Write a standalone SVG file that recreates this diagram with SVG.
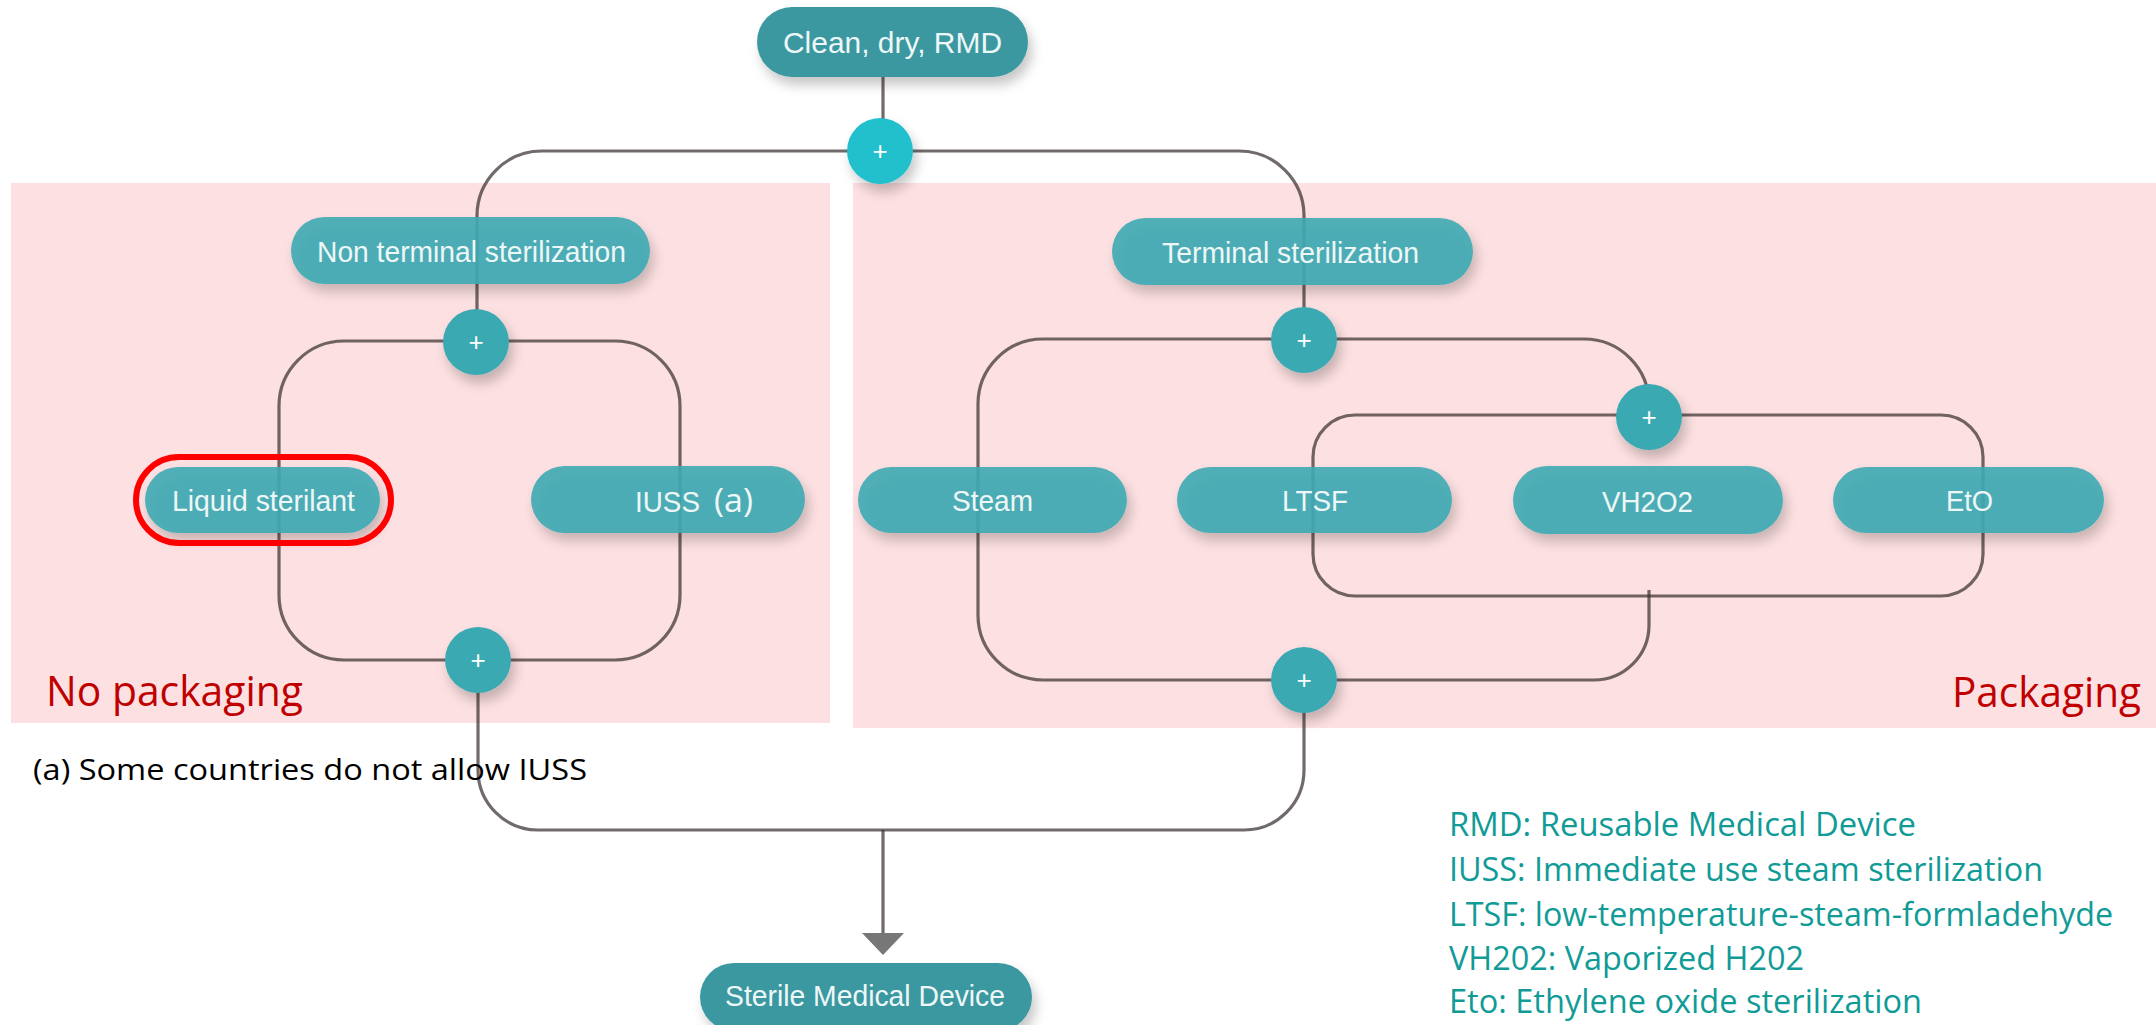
<svg xmlns="http://www.w3.org/2000/svg" width="2156" height="1025" viewBox="0 0 2156 1025">
  <defs>
    <filter id="sh" x="-20%" y="-30%" width="140%" height="180%">
      <feDropShadow dx="4" dy="8" stdDeviation="6" flood-color="#000" flood-opacity="0.22"/>
    </filter>
    <style>
      .zone { fill: #fde0e1; }
      .conn { fill: none; stroke: #3a3030; stroke-opacity: 0.72; stroke-width: 3.2; }
      .nodeIn { fill: #3eaab3; fill-opacity: 0.9; filter: url(#sh); }
      .nodeOut { fill: #3a98a1; filter: url(#sh); }
      .plus { fill: #3ba9b2; filter: url(#sh); }
      .plusTop { fill: #20c0cc; filter: url(#sh); }
      .lbl { font-family: "Liberation Sans", Arial, sans-serif; font-size: 30px; fill: #eef7f7; }
      .pl { font-family: "Liberation Sans", Arial, sans-serif; font-size: 26px; fill: #ffffff; text-anchor: middle; }
      .note { font-family: "Open Sans", "Noto Sans", sans-serif; }
      .red { fill: #c00000; font-size: 42px; }
      .leg { fill: #109b97; font-size: 32px; }
    </style>
  </defs>
  <rect width="2156" height="1025" fill="#ffffff"/>
  <!-- zones -->
  <rect class="zone" x="11" y="183" width="819" height="540"/>
  <rect class="zone" x="853" y="183" width="1303" height="545"/>

  <!-- connectors -->
  <g id="connectors">
    <path class="conn" d="M 883 77 V 120"/>
    <path class="conn" d="M 880 151 H 542 A 65 65 0 0 0 477 216 V 342"/>
    <path class="conn" d="M 880 151 H 1239 A 65 65 0 0 1 1304 216 V 340"/>
    <path class="conn" d="M 476 341 H 344 A 65 65 0 0 0 279 406 V 595 A 65 65 0 0 0 344 660 H 478"/>
    <path class="conn" d="M 476 341 H 615 A 65 65 0 0 1 680 406 V 595 A 65 65 0 0 1 615 660 H 478"/>
    <path class="conn" d="M 478 660 V 770 A 60 60 0 0 0 538 830 H 1244 A 60 60 0 0 0 1304 770 V 680"/>
    <path class="conn" d="M 883 830 V 935"/>
    <polygon points="862,933 904,933 883,955" fill="#777777"/>
    <path class="conn" d="M 1304 339 H 1043 A 65 65 0 0 0 978 404 V 615 A 65 65 0 0 0 1043 680 H 1304"/>
    <path class="conn" d="M 1304 339 H 1584 A 65 65 0 0 1 1649 404 V 417"/>
    <rect class="conn" x="1313" y="415" width="670" height="181" rx="42"/>
    <path class="conn" d="M 1649 590 V 625 A 55 55 0 0 1 1594 680 H 1304"/>
  </g>

  <!-- nodes -->
  <g id="n-clean">
    <rect class="nodeOut" x="757" y="7" width="271" height="70" rx="35"/>
    <text class="lbl" x="783" y="53" textLength="219" lengthAdjust="spacingAndGlyphs">Clean, dry, RMD</text>
  </g>
  <g id="p-top">
    <circle class="plusTop" cx="880" cy="151" r="33"/>
    <text class="pl" x="880" y="160">+</text>
  </g>
  <g id="n-nonterminal">
    <rect class="nodeIn" x="291" y="217" width="359" height="67" rx="33.5"/>
    <text class="lbl" x="317" y="262" textLength="309" lengthAdjust="spacingAndGlyphs">Non terminal sterilization</text>
  </g>
  <g id="n-terminal">
    <rect class="nodeIn" x="1112" y="218" width="361" height="67" rx="33.5"/>
    <text class="lbl" x="1162" y="263" textLength="257" lengthAdjust="spacingAndGlyphs">Terminal sterilization</text>
  </g>
  <g id="p-left-top">
    <circle class="plus" cx="476" cy="342" r="33"/>
    <text class="pl" x="476" y="351">+</text>
  </g>
  <g id="n-liquid">
    <rect class="nodeIn" x="145" y="467" width="235" height="66" rx="33"/>
    <text class="lbl" x="172" y="511" textLength="183" lengthAdjust="spacingAndGlyphs">Liquid sterilant</text>
    <rect x="136" y="457" width="255" height="86" rx="43" fill="none" stroke="#ff0000" stroke-width="6"/>
  </g>
  <g id="n-iuss">
    <rect class="nodeIn" x="531" y="466" width="274" height="67" rx="33.5"/>
    <text class="lbl" x="635" y="512" textLength="65" lengthAdjust="spacingAndGlyphs">IUSS</text>
    <text class="note" x="714" y="512" font-size="32" fill="#eef7f7" textLength="39" lengthAdjust="spacingAndGlyphs">(a)</text>
  </g>
  <g id="p-left-bottom">
    <circle class="plus" cx="478" cy="660" r="33"/>
    <text class="pl" x="478" y="669">+</text>
  </g>
  <g id="p-right-top">
    <circle class="plus" cx="1304" cy="340" r="33"/>
    <text class="pl" x="1304" y="349">+</text>
  </g>
  <g id="p-second">
    <circle class="plus" cx="1649" cy="417" r="33"/>
    <text class="pl" x="1649" y="426">+</text>
  </g>
  <g id="n-steam">
    <rect class="nodeIn" x="858" y="467" width="269" height="66" rx="33"/>
    <text class="lbl" x="952" y="511" textLength="81" lengthAdjust="spacingAndGlyphs">Steam</text>
  </g>
  <g id="n-ltsf">
    <rect class="nodeIn" x="1177" y="467" width="275" height="66" rx="33"/>
    <text class="lbl" x="1282" y="511" textLength="66" lengthAdjust="spacingAndGlyphs">LTSF</text>
  </g>
  <g id="n-vh2o2">
    <rect class="nodeIn" x="1513" y="466" width="270" height="68" rx="34"/>
    <text class="lbl" x="1602" y="512" textLength="91" lengthAdjust="spacingAndGlyphs">VH2O2</text>
  </g>
  <g id="n-eto">
    <rect class="nodeIn" x="1833" y="467" width="271" height="66" rx="33"/>
    <text class="lbl" x="1946" y="511" textLength="47" lengthAdjust="spacingAndGlyphs">EtO</text>
  </g>
  <g id="p-right-bottom">
    <circle class="plus" cx="1304" cy="680" r="33"/>
    <text class="pl" x="1304" y="689">+</text>
  </g>
  <g id="n-sterile">
    <rect class="nodeOut" x="700" y="963" width="332" height="68" rx="34"/>
    <text class="lbl" x="725" y="1006" textLength="280" lengthAdjust="spacingAndGlyphs">Sterile Medical Device</text>
  </g>

  <!-- annotations -->
  <text class="note red" x="46" y="706" textLength="257" lengthAdjust="spacingAndGlyphs">No packaging</text>
  <text class="note red" x="1952" y="707" textLength="189" lengthAdjust="spacingAndGlyphs">Packaging</text>
  <text class="note" x="33" y="780" font-size="30" fill="#000000" textLength="554" lengthAdjust="spacingAndGlyphs">(a) Some countries do not allow IUSS</text>
  <g id="legend">
    <text class="note leg" x="1449" y="836" textLength="467" lengthAdjust="spacingAndGlyphs">RMD: Reusable Medical Device</text>
    <text class="note leg" x="1449" y="881" textLength="594" lengthAdjust="spacingAndGlyphs">IUSS: Immediate use steam sterilization</text>
    <text class="note leg" x="1449" y="926" textLength="664" lengthAdjust="spacingAndGlyphs">LTSF: low-temperature-steam-formladehyde</text>
    <text class="note leg" x="1449" y="970" textLength="355" lengthAdjust="spacingAndGlyphs">VH202: Vaporized H202</text>
    <text class="note leg" x="1449" y="1013" textLength="473" lengthAdjust="spacingAndGlyphs">Eto: Ethylene oxide sterilization</text>
  </g>
</svg>
